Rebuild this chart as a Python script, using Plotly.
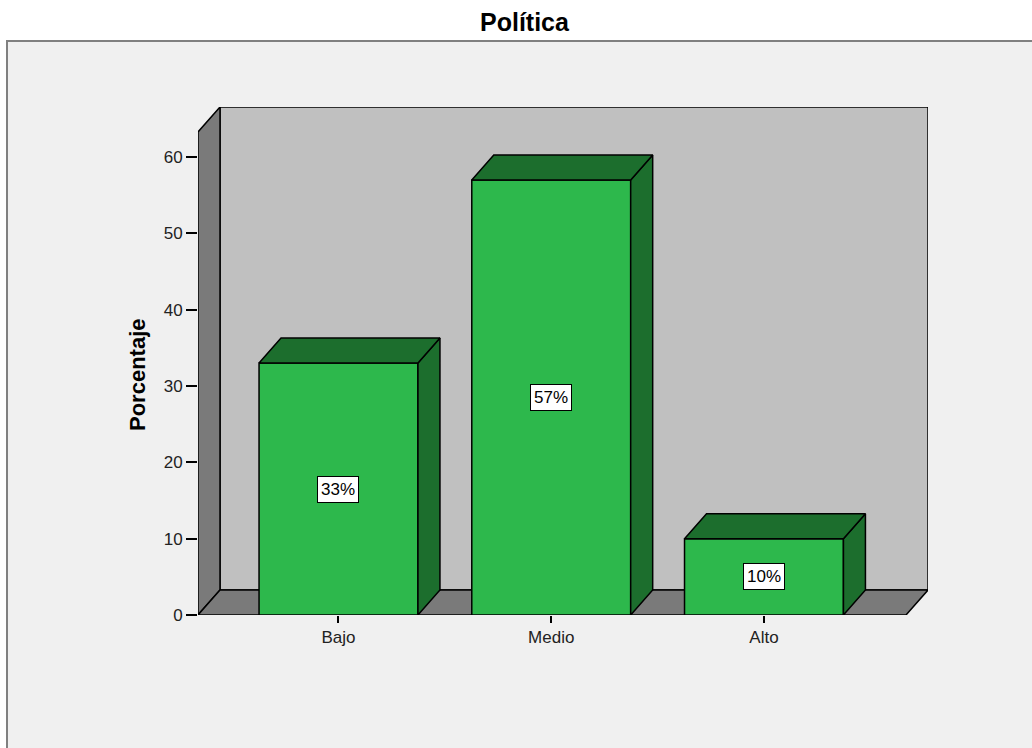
import plotly.graph_objects as go

# Datos
categorias = ["Bajo", "Medio", "Alto"]
porcentajes = [33, 57, 10]
etiquetas = [f"{v}%" for v in porcentajes]
ticks_y = [0, 10, 20, 30, 40, 50, 60]

# Geometría del gráfico 3D (en unidades de los ejes)
W, H = 1032, 748
ML, MR, MT, MB = 198, 104, 107, 133
X_RANGE = [-0.6604, 2.771]
Y_RANGE = [0, 66.55]
ANCHO = 0.747          # ancho de la cara frontal de cada barra
DX = 0.1034            # profundidad horizontal
DY = 3.275             # profundidad vertical

VERDE = "#2db84c"
VERDE_OSC = "#1c6e2d"
GRIS_FONDO = "#c0c0c0"
GRIS_PARED = "#7a7a7a"
FONDO = "#f0f0f0"
FUENTE = "Arial, Liberation Sans, sans-serif"

xs = list(range(len(categorias)))
xl, xr = X_RANGE
ytop = Y_RANGE[1]
PW, PH = W - ML - MR, H - MT - MB

fig = go.Figure()

# Caras laterales y superiores de las barras
for x, v in zip(xs, porcentajes):
    a, b = x - ANCHO / 2, x + ANCHO / 2
    fig.add_trace(go.Scatter(
        x=[b, b + DX, b + DX, b, b], y=[0, DY, v + DY, v, 0],
        mode="lines", fill="toself", fillcolor=VERDE_OSC,
        line=dict(color="black", width=1.5), hoverinfo="skip", showlegend=False))
    fig.add_trace(go.Scatter(
        x=[a, a + DX, b + DX, b, a], y=[v, v + DY, v + DY, v, v],
        mode="lines", fill="toself", fillcolor=VERDE_OSC,
        line=dict(color="black", width=1.5), hoverinfo="skip", showlegend=False))

# Cara frontal de las barras
fig.add_trace(go.Bar(
    x=xs, y=porcentajes, width=ANCHO,
    marker=dict(color=VERDE, line=dict(color="black", width=1.5)),
    hoverinfo="skip", showlegend=False))

shapes = [
    # marco del gráfico
    dict(type="rect", xref="paper", yref="paper",
         x0=(7 - ML) / PW, x1=1.5, y0=-0.5, y1=(H - MB - 41) / PH,
         fillcolor=FONDO, line=dict(color="#808080", width=2), layer="below"),
    # pared del fondo
    dict(type="rect", xref="x", yref="y", x0=xl + DX, x1=xr, y0=DY, y1=ytop,
         fillcolor=GRIS_FONDO, line=dict(color="black", width=1.5), layer="below"),
    # pared izquierda
    dict(type="path", xref="x", yref="y",
         path=f"M{xl},0 L{xl},{ytop - DY} L{xl + DX},{ytop} L{xl + DX},{DY} Z",
         fillcolor=GRIS_PARED, line=dict(color="black", width=1.5), layer="below"),
    # suelo
    dict(type="path", xref="x", yref="y",
         path=f"M{xl},0 L{xr - DX},0 L{xr},{DY} L{xl + DX},{DY} Z",
         fillcolor=GRIS_PARED, line=dict(color="black", width=1.5), layer="below"),
]

annotations = [
    dict(text="<b>Política</b>", xref="paper", yref="paper",
         x=(525 - ML) / PW, y=(H - MB - 22) / PH,
         showarrow=False, font=dict(family=FUENTE, size=25, color="black"),
         xanchor="center", yanchor="middle"),
    dict(text="<b>Porcentaje</b>", xref="paper", yref="paper",
         x=(137 - ML) / PW, y=(H - MB - 375) / PH,
         showarrow=False, textangle=-90,
         font=dict(family=FUENTE, size=22, color="black"),
         xanchor="center", yanchor="middle"),
]
for x, v, t in zip(xs, porcentajes, etiquetas):
    annotations.append(dict(
        text=t, x=x, y=v / 2, xref="x", yref="y", showarrow=False,
        font=dict(family=FUENTE, size=17, color="black"),
        bgcolor="white", bordercolor="black", borderwidth=1, borderpad=3,
        xanchor="center", yanchor="middle"))

fig.update_layout(
    width=W, height=H,
    margin=dict(l=ML, r=MR, t=MT, b=MB),
    paper_bgcolor="white", plot_bgcolor="rgba(0,0,0,0)",
    shapes=shapes, annotations=annotations,
    font=dict(family=FUENTE, size=17, color="#222"),
    xaxis=dict(range=X_RANGE, tickvals=xs, ticktext=categorias,
               showgrid=False, zeroline=False, showline=False,
               ticks="outside", ticklen=7, tickwidth=2, tickcolor="black",
               tickfont=dict(size=17, color="#222")),
    yaxis=dict(range=Y_RANGE, tickvals=ticks_y, showgrid=False, zeroline=False,
               showline=False, ticks="outside", ticklen=11, tickwidth=2,
               tickcolor="black", tickfont=dict(size=17, color="#222")),
)

fig.write_html("out.html")
